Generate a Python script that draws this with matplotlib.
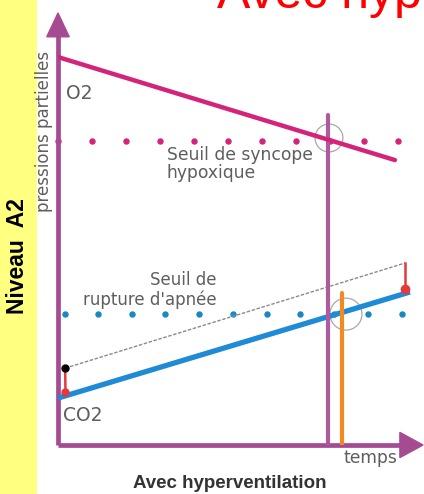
import matplotlib
matplotlib.use("Agg")
import matplotlib.pyplot as plt
from matplotlib.patches import Rectangle, Circle, Polygon

# ---------------- data ----------------
# time units along the x axis, partial pressure units along the y axis
o2_time = [0.0, 9.91]
o2_pressure = [11.41, 8.38]
o2_threshold = 8.94
o2_dot_times = [0, 1, 2, 3, 4, 5, 6, 7, 8, 9, 10]

co2_time = [0.0, 10.35]
co2_pressure = [1.38, 4.50]
co2_threshold = 3.85
co2_dot_times = [0.2, 1.18, 2.18, 3.15, 4.15, 5.15, 6.15, 7.12, 8.12, 9.12, 10.12]

# curve without hyperventilation (dashed)
normal_time = [0.21, 10.2]
normal_pressure = [2.26, 5.35]

# hyperventilation offset arrows (start, end)
left_arrow_time = [0.21, 0.22]
left_arrow_pressure = [2.26, 1.56]
right_arrow_time = [10.2, 10.2]
right_arrow_pressure = [5.35, 4.59]

syncope_time = 7.94
syncope_top = 9.71
rupture_time = 8.35
rupture_top = 4.47

circle_centers = [(7.97, 9.03), (8.47, 3.85)]
circle_radii = [0.41, 0.47]

x_axis_label = "temps"
y_axis_label = "pressions partielles"
title = "Avec hyperventilation"
side_label = "Niveau  A2"

# ---------------- figure ----------------
W, H = 424, 494
fig = plt.figure(figsize=(W / 100, H / 100), dpi=100)
fig.patch.set_facecolor("white")

def fx(px):
    return px / W

def fy(py):
    return 1 - py / H

# yellow side panel
fig.patches.append(Rectangle((0, 0), fx(37), 1, transform=fig.transFigure,
                             facecolor="#FFFF80", edgecolor="none", zorder=0))

# main axes : pixel box x 58..423, y 13..445 ; 34 px per unit
x0, x1, y_top, y_bot = 58, 423, 13, 445
ax = fig.add_axes([fx(x0), fy(y_bot), (x1 - x0) / W, (y_bot - y_top) / H])
ax.set_xlim(0, (x1 - x0) / 34)
ax.set_ylim(0, (y_bot - y_top) / 34)
ax.set_axis_off()
ax.patch.set_alpha(0)

xmax = (x1 - x0) / 34
ymax = (y_bot - y_top) / 34

purple = "#A54B92"
magenta = "#D4237A"
blue = "#1F8AD6"
orange = "#F28A22"
red = "#E23A3A"
gray_txt = "#5E5E5E"

# axes with arrows
ax.plot([0, xmax - 0.6], [0, 0], color=purple, lw=3.4, solid_capstyle="butt", zorder=3, clip_on=False)
ax.plot([0, 0], [0, ymax - 0.6], color=purple, lw=3.4, solid_capstyle="butt", zorder=3, clip_on=False)
ax.add_patch(Polygon([[xmax, 0], [xmax - 0.68, 0.37], [xmax - 0.68, -0.37]],
                     closed=True, color=purple, zorder=3, clip_on=False))
ax.add_patch(Polygon([[0, ymax], [-0.33, ymax - 0.7], [0.33, ymax - 0.7]],
                     closed=True, color=purple, zorder=3, clip_on=False))

# thresholds (dots)
ax.plot(o2_dot_times, [o2_threshold] * len(o2_dot_times), linestyle="none",
        marker="o", markersize=3.6, color=magenta, zorder=2, clip_on=False)
ax.plot(co2_dot_times, [co2_threshold] * len(co2_dot_times), linestyle="none",
        marker="o", markersize=3.6, color="#1A86C6", zorder=2, clip_on=False)

# circles
for c, r in zip(circle_centers, circle_radii):
    ax.add_patch(Circle(c, r, fill=False, edgecolor="#A8A8A8", lw=0.9, zorder=1))

# dashed curve without hyperventilation
ax.plot(normal_time, normal_pressure, color="#8A8A8A", lw=1.0,
        linestyle=(0, (2.5, 1.2)), zorder=2)

# CO2 and O2 lines
ax.plot(co2_time, co2_pressure, color=blue, lw=3.8, solid_capstyle="butt", zorder=4)
ax.plot(o2_time, o2_pressure, color=magenta, lw=3.2, solid_capstyle="round", zorder=6)

# vertical markers
ax.plot([syncope_time, syncope_time], [0, syncope_top], color="#B05A9E", lw=3.0,
        solid_capstyle="round", zorder=5)
ax.plot([rupture_time, rupture_time], [0, rupture_top], color=orange, lw=3.0,
        solid_capstyle="round", zorder=5)

# offset arrows
ax.plot(left_arrow_time, left_arrow_pressure, color=red, lw=1.8, zorder=7)
ax.plot(left_arrow_time[0], left_arrow_pressure[0], "o", color="black", markersize=5, zorder=8)
ax.plot(left_arrow_time[1], left_arrow_pressure[1], "o", color=red, markersize=5, zorder=8)
ax.plot(right_arrow_time, right_arrow_pressure, color=red, lw=1.8, zorder=7)
ax.plot(right_arrow_time[1], right_arrow_pressure[1], "o", color=red, markersize=6, zorder=8)

# ---------------- texts ----------------
sans = ["DejaVu Sans"]
arial = ["Liberation Sans", "DejaVu Sans"]

fig.text(fx(217), fy(8), title, color="#FF0000", fontsize=36, family=arial,
         ha="left", va="baseline")
fig.text(fx(18), fy(256), side_label, rotation=90, fontsize=16.5, fontweight="bold",
         family=arial, color="black", ha="center", va="center")
fig.text(fx(44), fy(131), y_axis_label, rotation=90, fontsize=12, family=sans,
         color=gray_txt, ha="center", va="center")
fig.text(fx(66), fy(93), "O2", fontsize=13.5, family=sans, color=gray_txt,
         ha="left", va="center")
fig.text(fx(63), fy(415), "CO2", fontsize=13.5, family=sans, color=gray_txt,
         ha="left", va="center")
fig.text(fx(167), fy(164), "Seuil de syncope\nhypoxique", fontsize=12.3, family=sans,
         color=gray_txt, ha="left", va="center", linespacing=1.05)
fig.text(fx(217), fy(290), "Seuil de\nrupture d'apnée", fontsize=12, family=sans,
         color=gray_txt, ha="right", va="center", multialignment="right", linespacing=1.05)
fig.text(fx(343), fy(458), x_axis_label, fontsize=12.3, family=sans, color=gray_txt,
         ha="left", va="center")
fig.text(fx(230), fy(483), "Avec hyperventilation", fontsize=13.5, fontweight="bold",
         family=arial, color="#333333", ha="center", va="center")

fig.savefig("out.png", dpi=100, facecolor="white")
